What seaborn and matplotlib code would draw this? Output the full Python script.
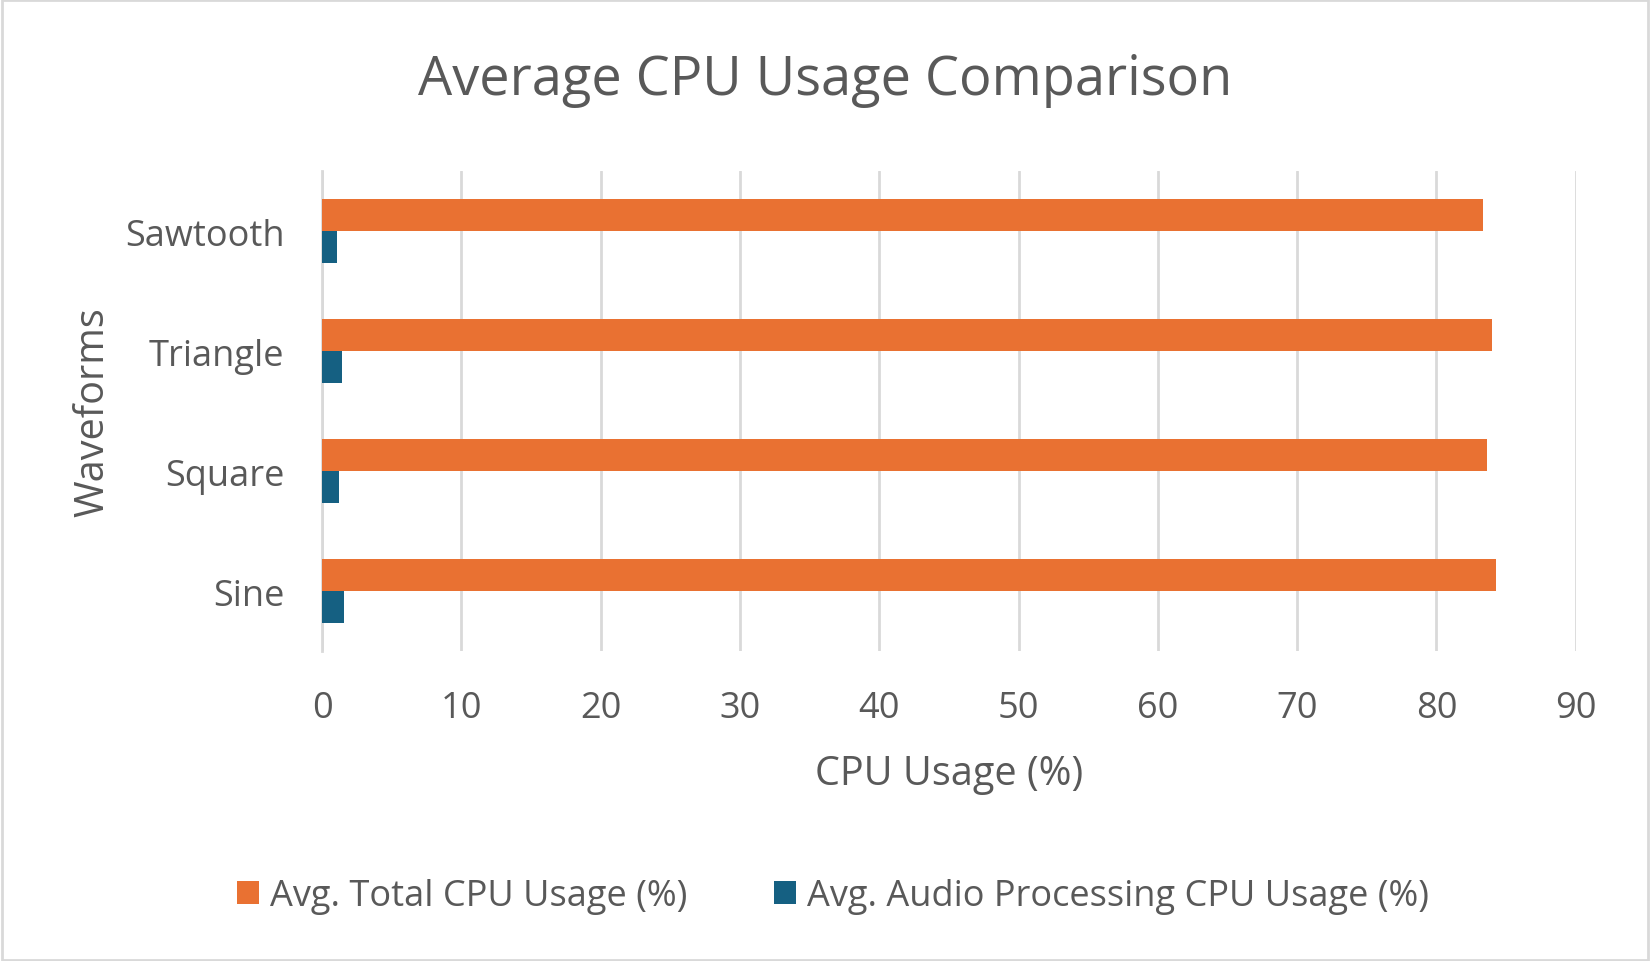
import matplotlib
matplotlib.use("Agg")
import matplotlib.pyplot as plt
import seaborn as sns
import pandas as pd
from matplotlib.patches import Rectangle

waveforms = ["Sawtooth", "Triangle", "Square", "Sine"]
total_cpu = [83.36, 84.0, 83.65, 84.29]
audio_cpu = [1.05, 1.44, 1.22, 1.58]
series_names = ["Avg. Total CPU Usage (%)", "Avg. Audio Processing CPU Usage (%)"]
x_ticks = [0, 10, 20, 30, 40, 50, 60, 70, 80, 90]

df = pd.DataFrame({
    "Waveform": waveforms * 2,
    "Value": total_cpu + audio_cpu,
    "Series": [series_names[0]] * len(waveforms) + [series_names[1]] * len(waveforms),
})

sns.set_theme(style="white")
plt.rcParams["font.family"] = ["Open Sans", "DejaVu Sans"]
text_color = "#595959"

fig = plt.figure(figsize=(16.5, 9.62), dpi=100)
ax = fig.add_axes([0.1952, 0.3222, 0.7598, 0.4990])

sns.barplot(data=df, y="Waveform", x="Value", hue="Series", order=waveforms,
            hue_order=series_names, palette=["#E97132", "#156082"], orient="h",
            width=0.533, ax=ax, legend=True, edgecolor="none", linewidth=0,
            saturation=1)

ax.set_xlim(0, 90)
ax.set_ylim(3.5, -0.5)
ax.set_xticks(x_ticks)
ax.xaxis.grid(True, color="#D9D9D9", linewidth=2)
ax.set_axisbelow(True)
for s in ["top", "right", "bottom"]:
    ax.spines[s].set_visible(False)
ax.spines["left"].set_color("#D9D9D9")
ax.spines["left"].set_linewidth(2)
ax.spines["left"].set_zorder(0.5)
ax.tick_params(axis="both", length=0, labelsize=26, colors=text_color)
ax.tick_params(axis="x", pad=28)
ax.tick_params(axis="y", pad=27)
ax.set_xlabel("CPU Usage (%)", fontsize=28.5, color=text_color, labelpad=20)
ax.set_ylabel("Waveforms", fontsize=28.5, color=text_color, labelpad=8)

leg = ax.legend(loc="center", bbox_to_anchor=(833 / 1650, 1 - 897 / 962),
                bbox_transform=fig.transFigure, ncol=2, frameon=False,
                fontsize=26, handlelength=0.6, handleheight=0.6,
                columnspacing=2.4, handletextpad=0.3, labelcolor=text_color)

fig.text(0.5, 1 - 80 / 962, "Average CPU Usage Comparison", ha="center", va="center",
         fontsize=39, color=text_color)

fig.patches.append(Rectangle((0.001, 0.001), 0.998, 0.998, transform=fig.transFigure,
                             fill=False, edgecolor="#D9D9D9", linewidth=2))

fig.savefig("out.png", dpi=100, facecolor="white")
